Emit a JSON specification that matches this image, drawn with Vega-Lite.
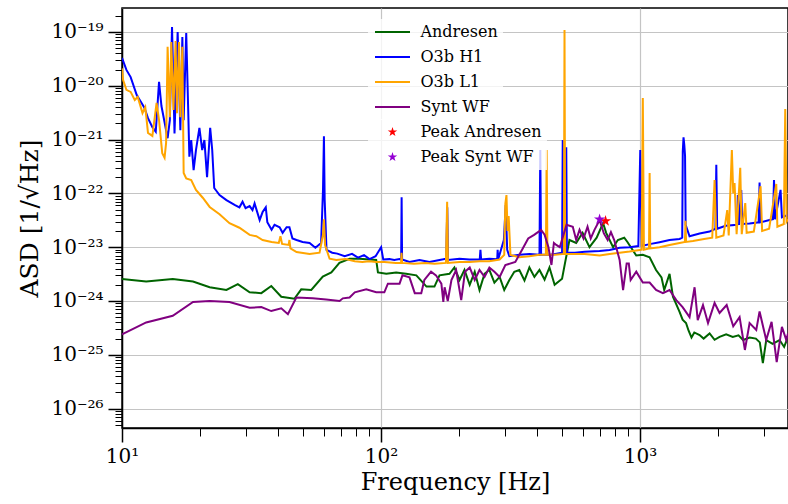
{
  "$schema": "https://vega.github.io/schema/vega-lite/v6.json",
  "width": 666,
  "height": 420,
  "autosize": {"type": "none"},
  "padding": {"left": 122, "top": 8, "right": 0, "bottom": 76},
  "background": "white",
  "config": {
    "font": "DejaVu Serif",
    "view": {"stroke": "black", "strokeWidth": 1.5},
    "axis": {"labelFont": "DejaVu Serif", "titleFont": "DejaVu Serif", "labelColor": "black", "titleColor": "black", "domainColor": "black", "tickColor": "black", "gridColor": "#c4c4c4", "gridWidth": 1.2, "titleFontWeight": "normal", "labelFlush": false, "labelOverlap": false}
  },
  "datasets": {
    "andresen": [
      {"f":10,"v":2.57e-24},{"f":12.4,"v":2.3e-24},{"f":15.7,"v":2.55e-24},{"f":18.8,"v":2.3e-24},{"f":21.8,"v":1.8e-24},{"f":25.3,"v":1.6e-24},{"f":28.0,"v":2.05e-24},{"f":31.1,"v":1.45e-24},{"f":34.5,"v":1.4e-24},{"f":37.7,"v":1.9e-24},{"f":41.2,"v":1.2e-24},{"f":46.3,"v":1.1e-24},{"f":49.2,"v":1.65e-24},{"f":53.8,"v":1.6e-24},{"f":59.6,"v":2.85e-24},{"f":64.3,"v":3.4e-24},{"f":69.1,"v":5.1e-24},{"f":75.6,"v":6.1e-24},{"f":82.6,"v":6.1e-24},{"f":90.3,"v":5.9e-24},{"f":95.8,"v":5.8e-24},{"f":97.3,"v":3.4e-24},{"f":104.8,"v":3.2e-24},{"f":114.4,"v":3.4e-24},{"f":125,"v":3.2e-24},{"f":136.9,"v":3.0e-24},{"f":149.8,"v":1.85e-24},{"f":160.8,"v":1.85e-24},{"f":168.2,"v":3.0e-24},{"f":183.8,"v":3.2e-24},{"f":192,"v":4.2e-24},{"f":201,"v":2.46e-24},{"f":210,"v":3.8e-24},{"f":220,"v":2.0e-24},{"f":230,"v":3.5e-24},{"f":240,"v":1.6e-24},{"f":251,"v":3.2e-24},{"f":262,"v":3.8e-24},{"f":274,"v":2.2e-24},{"f":287,"v":2.8e-24},{"f":299,"v":1.6e-24},{"f":313,"v":2.46e-24},{"f":327,"v":3.5e-24},{"f":342,"v":3.77e-24},{"f":358,"v":2.4e-24},{"f":374,"v":4.2e-24},{"f":391,"v":2.8e-24},{"f":409,"v":3.77e-24},{"f":428,"v":2.5e-24},{"f":447,"v":4.2e-24},{"f":468,"v":2.0e-24},{"f":500,"v":2.6e-24},{"f":513,"v":5.0e-24},{"f":534,"v":1.36e-23},{"f":567,"v":1.2e-23},{"f":600,"v":1.85e-23},{"f":638,"v":1.0e-23},{"f":680,"v":1.5e-23},{"f":720,"v":2.8e-23},{"f":740,"v":1.85e-23},{"f":787,"v":1.0e-23},{"f":821,"v":1.36e-23},{"f":869,"v":1.5e-23},{"f":894,"v":1.25e-23},{"f":967,"v":7.0e-24},{"f":1025,"v":7.2e-24},{"f":1089,"v":6.5e-24},{"f":1153,"v":3.77e-24},{"f":1210,"v":2.75e-24},{"f":1240,"v":1.6e-24},{"f":1300,"v":3.2e-24},{"f":1340,"v":1.2e-24},{"f":1421,"v":6.3e-25},{"f":1460,"v":4.5e-25},{"f":1505,"v":3.9e-25},{"f":1540,"v":2.8e-25},{"f":1580,"v":2.1e-25},{"f":1620,"v":2.6e-25},{"f":1698,"v":2.33e-25},{"f":1760,"v":2.0e-25},{"f":1856,"v":2.5e-25},{"f":1940,"v":1.9e-25},{"f":2028,"v":2.15e-25},{"f":2150,"v":2.4e-25},{"f":2280,"v":2.15e-25},{"f":2400,"v":2.3e-25},{"f":2500,"v":1.88e-25},{"f":2650,"v":2.1e-25},{"f":2800,"v":2.0e-25},{"f":2900,"v":1.7e-25},{"f":2980,"v":7e-26},{"f":3070,"v":1.88e-25},{"f":3250,"v":1.6e-25},{"f":3457,"v":1.88e-25},{"f":3600,"v":1.4e-25},{"f":3726,"v":2.15e-25}
    ],
    "h1": [
      {"f":10,"v":3.3e-20},{"f":10.4,"v":1.97e-20},{"f":10.8,"v":1.45e-20},{"f":11.4,"v":6.75e-21},{"f":11.9,"v":4.8e-21},{"f":12.2,"v":3.9e-21},{"f":12.6,"v":2.5e-21},{"f":13.1,"v":1.7e-21},{"f":13.5,"v":1.4e-21},{"f":13.9,"v":1.18e-20},{"f":14.2,"v":4.2e-21},{"f":14.6,"v":2.1e-21},{"f":15.0,"v":1.06e-21},{"f":15.3,"v":2.3e-21},{"f":15.6,"v":1.24e-19},{"f":15.95,"v":1.3e-21},{"f":16.4,"v":1.0e-19},{"f":16.8,"v":1.5e-21},{"f":17.1,"v":8.1e-20},{"f":17.3,"v":2.3e-21},{"f":17.7,"v":9.6e-20},{"f":17.96,"v":6.2e-21},{"f":18.2,"v":4.8e-22},{"f":18.5,"v":9.8e-22},{"f":18.9,"v":2.7e-22},{"f":19.3,"v":6.4e-22},{"f":19.9,"v":1.65e-21},{"f":20.4,"v":6.4e-22},{"f":20.8,"v":9.8e-22},{"f":21.3,"v":2.0e-22},{"f":21.9,"v":1.65e-21},{"f":22.3,"v":6.4e-22},{"f":22.7,"v":1.26e-22},{"f":23.8,"v":9.3e-23},{"f":25.3,"v":7.5e-23},{"f":27.2,"v":6.1e-23},{"f":28.4,"v":5.5e-23},{"f":29.2,"v":7.0e-23},{"f":30.0,"v":5.3e-23},{"f":31.1,"v":5.8e-23},{"f":31.9,"v":4.9e-23},{"f":32.5,"v":6.5e-23},{"f":34.0,"v":3.2e-23},{"f":34.9,"v":4.5e-23},{"f":35.9,"v":5.5e-23},{"f":36.4,"v":2.9e-23},{"f":37.8,"v":2.1e-23},{"f":38.8,"v":2.6e-23},{"f":40.6,"v":2.35e-23},{"f":41.7,"v":1.85e-23},{"f":43.2,"v":2.35e-23},{"f":44.3,"v":2.35e-23},{"f":45.5,"v":1.45e-23},{"f":47.2,"v":1.36e-23},{"f":49.8,"v":1.25e-23},{"f":53.0,"v":1.2e-23},{"f":55.8,"v":9.8e-24},{"f":58.7,"v":1.2e-23},{"f":59.7,"v":1.16e-22},{"f":60.2,"v":1.15e-21},{"f":60.6,"v":7.5e-23},{"f":61.6,"v":8.9e-24},{"f":64.8,"v":7.9e-24},{"f":67.8,"v":7.6e-24},{"f":72.4,"v":6.8e-24},{"f":77.3,"v":7.5e-24},{"f":81.5,"v":6.4e-24},{"f":86.0,"v":7.1e-24},{"f":90.3,"v":6.0e-24},{"f":95.3,"v":6.8e-24},{"f":100.1,"v":1.0e-23},{"f":102,"v":5.9e-24},{"f":107.8,"v":6.0e-24},{"f":112.5,"v":5.8e-24},{"f":117.9,"v":6.0e-24},{"f":119.6,"v":5.9e-24},{"f":120.1,"v":8.5e-23},{"f":120.6,"v":5.9e-24},{"f":128.8,"v":5.3e-24},{"f":140.8,"v":5.8e-24},{"f":153.9,"v":5.3e-24},{"f":168.2,"v":5.8e-24},{"f":178.5,"v":6.1e-24},{"f":180.2,"v":5.5e-23},{"f":181.5,"v":5.8e-24},{"f":200.9,"v":6.1e-24},{"f":219.6,"v":5.9e-24},{"f":240.5,"v":5.9e-24},{"f":242,"v":8.9e-24},{"f":243.5,"v":5.9e-24},{"f":262,"v":6.1e-24},{"f":281,"v":6.0e-24},{"f":282,"v":8.9e-24},{"f":283.5,"v":6.0e-24},{"f":298,"v":1.36e-23},{"f":303,"v":6.1e-23},{"f":307,"v":8.9e-24},{"f":313,"v":6.8e-24},{"f":342,"v":7.2e-24},{"f":374,"v":7.5e-24},{"f":409,"v":7.2e-24},{"f":412,"v":6.4e-22},{"f":415,"v":7.2e-24},{"f":447,"v":7.2e-24},{"f":470,"v":7.5e-24},{"f":500,"v":7.9e-24},{"f":503,"v":9.8e-22},{"f":506,"v":7.9e-24},{"f":516,"v":8.0e-24},{"f":519,"v":7.2e-22},{"f":522,"v":8.0e-24},{"f":560,"v":7.9e-24},{"f":611,"v":8.2e-24},{"f":698,"v":8.5e-24},{"f":763,"v":8.9e-24},{"f":834,"v":9.8e-24},{"f":911,"v":1.0e-23},{"f":985,"v":1.05e-23},{"f":1002,"v":6.4e-22},{"f":1015,"v":1.05e-23},{"f":1089,"v":1.14e-23},{"f":1190,"v":1.24e-23},{"f":1300,"v":1.36e-23},{"f":1421,"v":1.42e-23},{"f":1455,"v":1.5e-23},{"f":1462,"v":6.0e-22},{"f":1472,"v":1.1e-21},{"f":1482,"v":8.0e-22},{"f":1492,"v":5.0e-22},{"f":1500,"v":2.6e-23},{"f":1553,"v":1.6e-23},{"f":1698,"v":1.8e-23},{"f":1856,"v":1.95e-23},{"f":1955,"v":2.2e-23},{"f":1970,"v":3.4e-22},{"f":1985,"v":2.2e-23},{"f":2140,"v":2.5e-23},{"f":2370,"v":2.6e-23},{"f":2386,"v":9.3e-23},{"f":2410,"v":2.6e-23},{"f":2459,"v":1.16e-22},{"f":2480,"v":2.7e-23},{"f":2648,"v":2.75e-23},{"f":2870,"v":2.9e-23},{"f":2894,"v":1.6e-22},{"f":2920,"v":2.9e-23},{"f":3162,"v":3.2e-23},{"f":3260,"v":3.3e-23},{"f":3290,"v":1.77e-22},{"f":3320,"v":3.3e-23},{"f":3488,"v":1.16e-22},{"f":3530,"v":3.6e-23},{"f":3726,"v":3.97e-23}
    ],
    "l1": [
      {"f":10,"v":2.1e-20},{"f":10.1,"v":1.28e-20},{"f":10.4,"v":8.4e-21},{"f":10.8,"v":7.7e-21},{"f":11.2,"v":5.45e-21},{"f":11.5,"v":6.2e-21},{"f":12.0,"v":3.1e-21},{"f":12.3,"v":4.0e-21},{"f":12.6,"v":1.33e-21},{"f":13.1,"v":1.17e-21},{"f":13.6,"v":4.8e-21},{"f":13.9,"v":2.3e-21},{"f":14.3,"v":5.6e-22},{"f":14.6,"v":4.6e-22},{"f":14.8,"v":8.7e-22},{"f":15.0,"v":5.3e-20},{"f":15.3,"v":2.6e-21},{"f":15.5,"v":6.5e-20},{"f":15.8,"v":3.55e-21},{"f":16.1,"v":6.8e-20},{"f":16.3,"v":3.1e-21},{"f":16.6,"v":6.5e-20},{"f":16.8,"v":2.6e-21},{"f":17.1,"v":5.3e-20},{"f":17.3,"v":2.4e-22},{"f":17.7,"v":1.9e-22},{"f":18.5,"v":1.77e-22},{"f":19.3,"v":1.16e-22},{"f":20.5,"v":8.3e-23},{"f":21.8,"v":5.6e-23},{"f":23.8,"v":4.1e-23},{"f":26.0,"v":2.8e-23},{"f":28.4,"v":2.3e-23},{"f":31.1,"v":1.69e-23},{"f":33,"v":1.6e-23},{"f":34.9,"v":1.36e-23},{"f":37.8,"v":1.25e-23},{"f":40.3,"v":1.2e-23},{"f":40.9,"v":1.6e-23},{"f":41.5,"v":1.15e-23},{"f":44.0,"v":1.1e-23},{"f":44.3,"v":1.36e-23},{"f":44.7,"v":9.5e-24},{"f":47.2,"v":8.1e-24},{"f":53.0,"v":7.5e-24},{"f":57.9,"v":7.9e-24},{"f":59.7,"v":1.7e-23},{"f":60.2,"v":3.3e-23},{"f":60.8,"v":1.1e-23},{"f":63.3,"v":6.1e-24},{"f":67.2,"v":5.8e-24},{"f":73,"v":6.0e-24},{"f":79.2,"v":5.5e-24},{"f":84.7,"v":5.3e-24},{"f":90,"v":5.5e-24},{"f":96,"v":5.3e-24},{"f":103,"v":5.3e-24},{"f":114,"v":5.1e-24},{"f":119.5,"v":5.1e-24},{"f":120,"v":7.9e-24},{"f":120.6,"v":5.1e-24},{"f":134,"v":4.9e-24},{"f":148,"v":5.1e-24},{"f":161,"v":4.9e-24},{"f":178,"v":5.1e-24},{"f":180,"v":7.0e-23},{"f":181.3,"v":5.1e-24},{"f":201,"v":5.3e-24},{"f":220,"v":5.3e-24},{"f":240,"v":5.5e-24},{"f":262,"v":5.5e-24},{"f":287,"v":5.9e-24},{"f":299,"v":7.2e-24},{"f":302,"v":6.5e-23},{"f":305,"v":9.3e-23},{"f":308,"v":2.0e-23},{"f":311,"v":3.8e-23},{"f":316,"v":7.2e-24},{"f":342,"v":6.5e-24},{"f":374,"v":6.8e-24},{"f":409,"v":7.2e-24},{"f":433,"v":7.2e-24},{"f":436,"v":6.4e-22},{"f":439,"v":7.2e-24},{"f":470,"v":7.2e-24},{"f":508,"v":7.5e-24},{"f":511,"v":1.09e-19},{"f":514,"v":7.5e-24},{"f":560,"v":7.5e-24},{"f":611,"v":7.5e-24},{"f":698,"v":7.0e-24},{"f":763,"v":7.5e-24},{"f":834,"v":7.9e-24},{"f":911,"v":8.3e-24},{"f":996,"v":8.9e-24},{"f":1015,"v":9.0e-24},{"f":1025,"v":5.9e-21},{"f":1035,"v":9.0e-24},{"f":1083,"v":9.5e-24},{"f":1089,"v":2.4e-22},{"f":1095,"v":9.5e-24},{"f":1190,"v":1.0e-23},{"f":1300,"v":1.1e-23},{"f":1421,"v":1.2e-23},{"f":1490,"v":1.25e-23},{"f":1498,"v":3.1e-23},{"f":1506,"v":1.25e-23},{"f":1600,"v":1.3e-23},{"f":1768,"v":1.42e-23},{"f":1900,"v":1.5e-23},{"f":1940,"v":1.77e-22},{"f":1970,"v":1.5e-23},{"f":2100,"v":1.65e-23},{"f":2171,"v":4.9e-23},{"f":2200,"v":1.65e-23},{"f":2262,"v":6.4e-22},{"f":2290,"v":1.0e-22},{"f":2317,"v":1.55e-22},{"f":2360,"v":1.75e-23},{"f":2437,"v":3.0e-22},{"f":2470,"v":1.75e-23},{"f":2548,"v":6.6e-23},{"f":2580,"v":1.85e-23},{"f":2750,"v":1.95e-23},{"f":2920,"v":1.36e-22},{"f":2960,"v":2.0e-23},{"f":3150,"v":2.2e-23},{"f":3357,"v":1.5e-22},{"f":3390,"v":2.4e-23},{"f":3590,"v":2.7e-23},{"f":3636,"v":3.7e-21},{"f":3680,"v":3.0e-23},{"f":3726,"v":3.3e-23}
    ],
    "synt": [
      {"f":10,"v":2.4e-25},{"f":12.4,"v":4.0e-25},{"f":15.7,"v":5.3e-25},{"f":18.8,"v":9.6e-25},{"f":21.8,"v":1.0e-24},{"f":26.0,"v":9.6e-25},{"f":31.1,"v":7.5e-25},{"f":34.5,"v":7.7e-25},{"f":37.7,"v":6.5e-25},{"f":41.2,"v":7.3e-25},{"f":43.7,"v":5.7e-25},{"f":47.1,"v":1.16e-24},{"f":54.5,"v":1.12e-24},{"f":61.4,"v":1.07e-24},{"f":69.2,"v":1.0e-24},{"f":71.2,"v":1.12e-24},{"f":75.6,"v":1.16e-24},{"f":79.2,"v":1.45e-24},{"f":87.7,"v":1.65e-24},{"f":95.8,"v":1.45e-24},{"f":103,"v":1.45e-24},{"f":106.3,"v":2.1e-24},{"f":117.9,"v":2.1e-24},{"f":121,"v":3.0e-24},{"f":128.8,"v":2.75e-24},{"f":135,"v":1.4e-24},{"f":143,"v":1.4e-24},{"f":147,"v":2.46e-24},{"f":156,"v":3.5e-24},{"f":163,"v":3.0e-24},{"f":171,"v":2.1e-24},{"f":174,"v":9.6e-25},{"f":176,"v":1.8e-24},{"f":181,"v":1.0e-24},{"f":187,"v":2.46e-24},{"f":195,"v":3.77e-24},{"f":204,"v":1.04e-24},{"f":211,"v":3.5e-24},{"f":220,"v":4.2e-24},{"f":230,"v":2.46e-24},{"f":240,"v":3.77e-24},{"f":251,"v":2.8e-24},{"f":262,"v":4.2e-24},{"f":274,"v":3.5e-24},{"f":287,"v":2.8e-24},{"f":302,"v":4.67e-24},{"f":330,"v":5.3e-24},{"f":350,"v":8.9e-24},{"f":370,"v":1.45e-23},{"f":390,"v":1.69e-23},{"f":415,"v":2.1e-23},{"f":428,"v":1.7e-23},{"f":443,"v":1.0e-23},{"f":455,"v":4.67e-24},{"f":465,"v":1.2e-23},{"f":475,"v":1.1e-23},{"f":490,"v":1.0e-23},{"f":520,"v":2.6e-23},{"f":550,"v":2.4e-23},{"f":567,"v":1.36e-23},{"f":584,"v":2.1e-23},{"f":605,"v":1.45e-23},{"f":627,"v":2.4e-23},{"f":645,"v":1.45e-23},{"f":667,"v":2.1e-23},{"f":698,"v":3.2e-23},{"f":725,"v":1.8e-23},{"f":750,"v":1.36e-23},{"f":772,"v":1.9e-23},{"f":795,"v":1.36e-23},{"f":834,"v":5.8e-24},{"f":860,"v":1.6e-24},{"f":888,"v":5.0e-24},{"f":905,"v":5.0e-24},{"f":920,"v":2.46e-24},{"f":967,"v":3.5e-24},{"f":1025,"v":2.2e-24},{"f":1089,"v":2.2e-24},{"f":1153,"v":1.6e-24},{"f":1225,"v":1.4e-24},{"f":1300,"v":1.6e-24},{"f":1380,"v":1.04e-24},{"f":1460,"v":7.7e-25},{"f":1553,"v":5.0e-25},{"f":1624,"v":1.8e-24},{"f":1670,"v":4.4e-25},{"f":1750,"v":8.4e-25},{"f":1830,"v":3.9e-25},{"f":1940,"v":9.2e-25},{"f":2028,"v":6.0e-25},{"f":2160,"v":8.4e-25},{"f":2290,"v":3.4e-25},{"f":2423,"v":5.0e-25},{"f":2540,"v":1.23e-25},{"f":2648,"v":3.9e-25},{"f":2810,"v":2.9e-25},{"f":2894,"v":6.4e-25},{"f":3070,"v":1.88e-25},{"f":3220,"v":4.1e-25},{"f":3370,"v":7.3e-26},{"f":3530,"v":3.3e-25},{"f":3670,"v":1.88e-25},{"f":3726,"v":2.5e-25}
    ],
    "peaks": [
      {"f":736,"v":3.07e-23,"series":"Peak Andresen"},
      {"f":698,"v":3.3e-23,"series":"Peak Synt WF"}
    ]
  },
  "encoding": {
    "x": {"field": "f", "type": "quantitative", "scale": {"type": "log", "domain": [10, 3726], "nice": false},
      "axis": {"orient": "bottom", "values": [10, 20, 30, 40, 50, 60, 70, 80, 90, 100, 200, 300, 400, 500, 600, 700, 800, 900, 1000, 2000, 3000],
        "labelExpr": "abs(log(datum.value)/LN10 - round(log(datum.value)/LN10)) < 0.01 ? '10' + ['⁰','¹','²','³','⁴'][round(log(datum.value)/LN10)] : ''",
        "tickSize": {"condition": {"test": "abs(log(datum.value)/LN10 - round(log(datum.value)/LN10)) < 0.01", "value": 14}, "value": 8},
        "tickWidth": {"condition": {"test": "abs(log(datum.value)/LN10 - round(log(datum.value)/LN10)) < 0.01", "value": 1.5}, "value": 1},
        "gridOpacity": {"condition": {"test": "abs(log(datum.value)/LN10 - round(log(datum.value)/LN10)) < 0.01", "value": 1}, "value": 0},
        "title": "Frequency [Hz]", "titleFontSize": 24, "labelFontSize": 20, "domainWidth": 1.5, "grid": true, "labelPadding": 4, "titlePadding": 4}},
    "y": {"field": "v", "type": "quantitative", "scale": {"type": "log", "domain": [4.36e-27, 2.79e-19], "nice": false},
      "axis": {"orient": "left", "values": [5e-27, 6e-27, 7e-27, 8e-27, 9e-27, 1e-26, 2e-26, 3e-26, 4e-26, 5e-26, 6e-26, 7e-26, 8e-26, 9e-26, 1e-25, 2e-25, 3e-25, 4e-25, 5e-25, 6e-25, 7e-25, 8e-25, 9e-25, 1e-24, 2e-24, 3e-24, 4e-24, 5e-24, 6e-24, 7e-24, 8e-24, 9e-24, 1e-23, 2e-23, 3e-23, 4e-23, 5e-23, 6e-23, 7e-23, 8e-23, 9e-23, 1e-22, 2e-22, 3e-22, 4e-22, 5e-22, 6e-22, 7e-22, 8e-22, 9e-22, 1e-21, 2e-21, 3e-21, 4e-21, 5e-21, 6e-21, 7e-21, 8e-21, 9e-21, 1e-20, 2e-20, 3e-20, 4e-20, 5e-20, 6e-20, 7e-20, 8e-20, 9e-20, 1e-19, 2e-19],
        "labelExpr": "abs(log(datum.value)/LN10 - round(log(datum.value)/LN10)) < 0.01 ? '10⁻' + (round(-log(datum.value)/LN10) == 19 ? '¹⁹' : '²' + ['⁰','¹','²','³','⁴','⁵','⁶','⁷','⁸','⁹'][round(-log(datum.value)/LN10) - 20]) : ''",
        "tickSize": {"condition": {"test": "abs(log(datum.value)/LN10 - round(log(datum.value)/LN10)) < 0.01", "value": 14}, "value": 7},
        "tickWidth": {"condition": {"test": "abs(log(datum.value)/LN10 - round(log(datum.value)/LN10)) < 0.01", "value": 1.5}, "value": 1},
        "gridOpacity": {"condition": {"test": "abs(log(datum.value)/LN10 - round(log(datum.value)/LN10)) < 0.01", "value": 1}, "value": 0},
        "title": "ASD [1/√Hz]", "titleFontSize": 25, "labelFontSize": 20, "domainWidth": 1.5, "grid": true, "labelPadding": 5, "titlePadding": 8}}
  },
  "layer": [
    {
      "data": {"name": "andresen"},
      "mark": {"type": "line", "strokeWidth": 2, "clip": true},
      "encoding": {
        "color": {"datum": "Andresen", "type": "nominal",
          "scale": {"domain": ["Andresen", "O3b H1", "O3b L1", "Synt WF"], "range": ["#006400", "#0000ff", "#ffa500", "#800080"]},
          "legend": {"title": null, "orient": "none", "legendX": 246, "legendY": 11, "fillColor": "rgba(255,255,255,0.8)", "padding": 5, "labelFont": "DejaVu Serif", "labelFontSize": 16, "labelColor": "black", "symbolType": "M-3.5,0H3.5", "symbolSize": 100, "symbolStrokeWidth": 2, "rowPadding": 9, "symbolOffset": 11.5, "labelOffset": 20}
        }
      }
    },
    {
      "data": {"name": "h1"},
      "mark": {"type": "line", "strokeWidth": 2, "clip": true},
      "encoding": {"color": {"datum": "O3b H1", "type": "nominal"}}
    },
    {
      "data": {"name": "l1"},
      "mark": {"type": "line", "strokeWidth": 2, "clip": true},
      "encoding": {"color": {"datum": "O3b L1", "type": "nominal"}}
    },
    {
      "data": {"name": "synt"},
      "mark": {"type": "line", "strokeWidth": 2, "clip": true},
      "encoding": {"color": {"datum": "Synt WF", "type": "nominal"}}
    },
    {
      "data": {"name": "peaks"},
      "mark": {"type": "point", "shape": "M0,-1L0.2245,-0.309L0.951,-0.309L0.363,0.118L0.588,0.809L0,0.382L-0.588,0.809L-0.363,0.118L-0.951,-0.309L-0.2245,-0.309Z", "filled": true, "size": 140, "opacity": 1},
      "encoding": {
        "fill": {"field": "series", "type": "nominal",
          "scale": {"domain": ["Peak Andresen", "Peak Synt WF"], "range": ["#ff0000", "#9400d3"]},
          "legend": {"title": null, "orient": "none", "legendX": 246, "legendY": 111, "fillColor": "rgba(255,255,255,0.8)", "padding": 5, "labelFont": "DejaVu Serif", "labelFontSize": 16, "labelColor": "black", "symbolType": "M0,-1L0.2245,-0.309L0.951,-0.309L0.363,0.118L0.588,0.809L0,0.382L-0.588,0.809L-0.363,0.118L-0.951,-0.309L-0.2245,-0.309Z", "symbolSize": 100, "symbolStrokeWidth": 2, "rowPadding": 9, "symbolOffset": 11.5, "labelOffset": 20}
        }
      }
    }
  ]
}
